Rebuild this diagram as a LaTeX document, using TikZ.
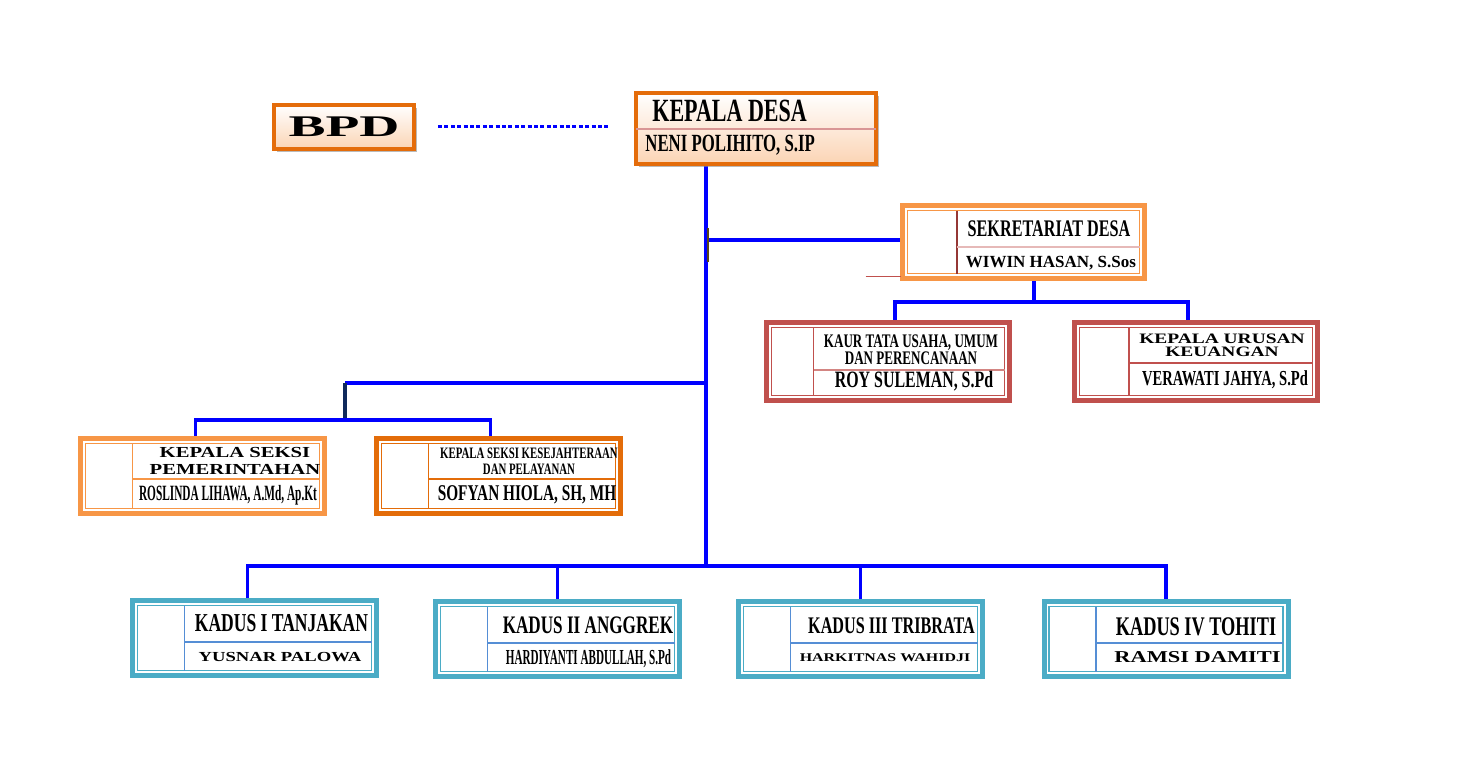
\documentclass[tikz,border=0pt]{standalone}
\usepackage{fontspec}
\setmainfont{Liberation Serif}
\newfontfamily\sempit[FakeStretch=0.68]{Liberation Serif}
\newfontfamily\rapat[FakeStretch=0.52]{Liberation Serif}
\newfontfamily\lebar[FakeStretch=1.35]{Liberation Serif}
\newfontfamily\lebarsekali[FakeStretch=1.85]{Liberation Serif}
\usepackage{tikz}
\usetikzlibrary{calc}
\usetikzlibrary{positioning}
\usetikzlibrary{shadows}
\usetikzlibrary{backgrounds}

\definecolor{oranyetua}{HTML}{E46C0A}
\definecolor{oranye}{HTML}{F79646}
\definecolor{oranyekes}{HTML}{E36C09}
\definecolor{merah}{HTML}{C0504D}
\definecolor{merahtua}{HTML}{953735}
\definecolor{merahmuda}{HTML}{E6B9B8}
\definecolor{garispink}{HTML}{D99694}
\definecolor{tosca}{HTML}{4BACC6}
\definecolor{birumuda}{HTML}{558ED5}
\definecolor{persik}{HTML}{FBD4B4}
\definecolor{biru}{HTML}{0000FF}
\definecolor{navy}{HTML}{102A5C}

\newcommand{\uk}[2]{\fontsize{#1}{#2}\selectfont}

% frame inside a box: name, rect colour, vertical colour, horizontal colour, x offset, y offset
\newcommand{\isikotak}[6]{%
  \draw[#2, garisdalam] ($(#1.north west)+(5,5)$) rectangle ($(#1.south east)+(-5,-5)$);
  \draw[#3, garisdalam] ($(#1.north west)+(#5,5)$) -- ($(#1.south west)+(#5,-5)$);
  \draw[#4, garisdalam] ($(#1.north west)+(#5,#6)$) -- ($(#1.north east)+(-5,#6)$);
}

\tikzset{
  kotak/.style={draw=#1, line width=2.5pt, fill=white, minimum width=122pt,
    minimum height=37.5pt, inner sep=0pt, outer sep=0pt},
  kotakutama/.style={draw=oranyetua, line width=2pt, top color=white,
    bottom color=persik, inner sep=0pt, outer sep=0pt,
    drop shadow={shadow xshift=1.5pt, shadow yshift=-1.5pt, fill=black!45, opacity=.6}},
  garisdalam/.style={line width=0.6pt},
  teks/.style={inner sep=0pt, text=black},
  garis/.style={draw=biru, line width=1.6pt},
  titik/.style={draw=biru, line width=1.5pt, dash pattern=on 2pt off 1.2pt},
}

\begin{document}
\begin{tikzpicture}[x=0.5pt, y=-0.5pt]
\useasboundingbox (0,0) rectangle (1462,768);

% top
\node[kotakutama, minimum width=70pt, minimum height=22pt,
  font={\lebarsekali\bfseries\uk{15}{15}}] (bpd) at (344,127) {BPD};
\node[kotakutama, minimum width=120pt, minimum height=35.5pt] (kades) at (756,128.5) {};
\draw[garispink, line width=1pt] ($(kades.north west)+(0,36)$) -- ($(kades.north east)+(0,36)$);
\node[teks, anchor=west, font={\sempit\bfseries\uk{16.2}{17}}] (kades-jab) at (652,111) {KEPALA DESA};
\node[teks, anchor=west, font={\sempit\bfseries\uk{12.35}{13}}] (kades-nama) at (645,145) {NENI POLIHITO, S.IP};

% sekretariat
\node[kotak=oranye, minimum width=121pt, minimum height=36.5pt] (sek) at (1023.5,242) {};
\isikotak{sek}{oranye}{merahtua}{merahmuda}{54.5}{41.5}
\node[teks, font={\sempit\bfseries\uk{11.9}{13}}] (sek-jab) at (1049,228.5) {SEKRETARIAT DESA};
\node[teks, font={\bfseries\uk{8.5}{10}}] (sek-nama) at (1051,263.5) {WIWIN HASAN, S.Sos};

\node[kotak=merah, minimum width=121.5pt, minimum height=39pt] (kaur) at (888,361.5) {};
\isikotak{kaur}{merah}{merah}{merah!70}{47}{47.5}
\node[teks, align=center, font={\sempit\bfseries\uk{9.6}{8.5}}] (kaur-jab) at (911,349.5)
  {KAUR TATA USAHA, UMUM\\DAN PERENCANAAN};
\node[teks, font={\sempit\bfseries\uk{11.7}{12}}] (kaur-nama) at (914,381.5) {ROY SULEMAN, S.Pd};

\node[kotak=merah, minimum width=121.5pt, minimum height=39pt] (keu) at (1196,361.5) {};
\isikotak{keu}{merah}{merah}{merah}{54.5}{40.5}
\node[teks, align=center, font={\lebar\bfseries\uk{7.2}{6.3}}] (keu-jab) at (1222,345)
  {KEPALA URUSAN\\KEUANGAN};
\node[teks, font={\sempit\bfseries\uk{10.7}{12}}] (keu-nama) at (1225,380) {VERAWATI JAHYA, S.Pd};

% seksi
\node[kotak=oranye] (pem) at (202.5,476) {};
\isikotak{pem}{oranye}{oranye}{oranye}{52}{40.5}
\node[teks, align=center, font={\lebar\bfseries\uk{7.65}{8.5}}] (pem-jab) at (235,461)
  {KEPALA SEKSI\\PEMERINTAHAN};
\node[teks, font={\rapat\bfseries\uk{10.9}{12}}] (pem-nama) at (228,495) {ROSLINDA LIHAWA, A.Md, Ap.Kt};

\node[kotak=oranyekes] (kes) at (498.5,476) {};
\isikotak{kes}{oranyekes}{oranyekes}{oranyekes}{52}{40.5}
\node[teks, align=center, font={\sempit\bfseries\uk{7.95}{8}}] (kes-jab) at (529,461)
  {KEPALA SEKSI KESEJAHTERAAN\\DAN PELAYANAN};
\node[teks, font={\sempit\bfseries\uk{11.25}{12}}] (kes-nama) at (527,494.5) {SOFYAN HIOLA, SH, MH};

% kadus
\foreach \i/\cx/\cy in {1/254.5/638, 2/557.5/639, 3/860.5/639, 4/1166/639} {
  \node[kotak=tosca] (kd\i) at (\cx,\cy) {};
  \isikotak{kd\i}{tosca}{birumuda}{birumuda}{52}{41.5}
}
\node[teks, font={\sempit\bfseries\uk{12.9}{13}}] (kd1-jab) at (281.5,623.5) {KADUS I TANJAKAN};
\node[teks, font={\lebar\bfseries\uk{6.9}{8}}] (kd1-nama) at (280,657.5) {YUSNAR PALOWA};
\node[teks, font={\sempit\bfseries\uk{12.6}{13}}] (kd2-jab) at (588,625.5) {KADUS II ANGGREK};
\node[teks, font={\rapat\bfseries\uk{10.7}{12}}] (kd2-nama) at (588.5,659) {HARDIYANTI ABDULLAH, S.Pd};
\node[teks, font={\sempit\bfseries\uk{11.9}{13}}] (kd3-jab) at (891.5,625.5) {KADUS III TRIBRATA};
\node[teks, font={\lebar\bfseries\uk{5.9}{7}}] (kd3-nama) at (885,657.5) {HARKITNAS WAHIDJI};
\node[teks, font={\sempit\bfseries\uk{13.45}{14}}] (kd4-jab) at (1196,626.5) {KADUS IV TOHITI};
\node[teks, font={\lebar\bfseries\uk{8.3}{9}}] (kd4-nama) at (1197.5,657.5) {RAMSI DAMITI};

% garis
\coordinate (pusat) at (706,566);
\coordinate (cabsek) at (706,240);
\coordinate (cabkiri) at (706,383);
\coordinate (kiri) at (345,420);
\coordinate (sekbawah) at (1034,302);

\begin{scope}[on background layer]
\draw[garis] (kades.south -| pusat) -- (pusat);
\draw[garis] (cabsek) -- (cabsek -| sek.west);
\draw[garis] (sekbawah |- sek.south) -- (sekbawah);
\draw[garis] ($(kaur.north)+(7,0)$) |- (sekbawah) -| ($(keu.north)+(-8,0)$);
\draw[garis] (cabkiri) -- (cabkiri -| kiri);
\draw[garis, draw=navy] (cabkiri -| kiri) -- (kiri);
\draw[garis] ($(pem.north)+(-7,0)$) |- (kiri) -| ($(kes.north)+(-8,0)$);
\draw[garis] ($(kd1.north)+(-7,0)$) |- (pusat) -| (kd4.north);
\draw[garis] (kd2.north) -- (kd2.north |- pusat);
\draw[garis] (kd3.north) -- (kd3.north |- pusat);
\end{scope}
\draw[titik] ($(bpd.east)+(24,-1)$) -- ($(bpd.east -| kades.west)+(-26,-1)$);

% stray marks
\draw[draw={rgb,255:red,90;green,70;blue,20}, line width=0.8pt] ($(cabsek)+(2,-12)$) -- ($(cabsek)+(2,22)$);
\draw[merah, line width=0.8pt] ($(sek.south west)+(-37,-2)$) -- ($(sek.south west)+(-2,-2)$);

\end{tikzpicture}
\end{document}
